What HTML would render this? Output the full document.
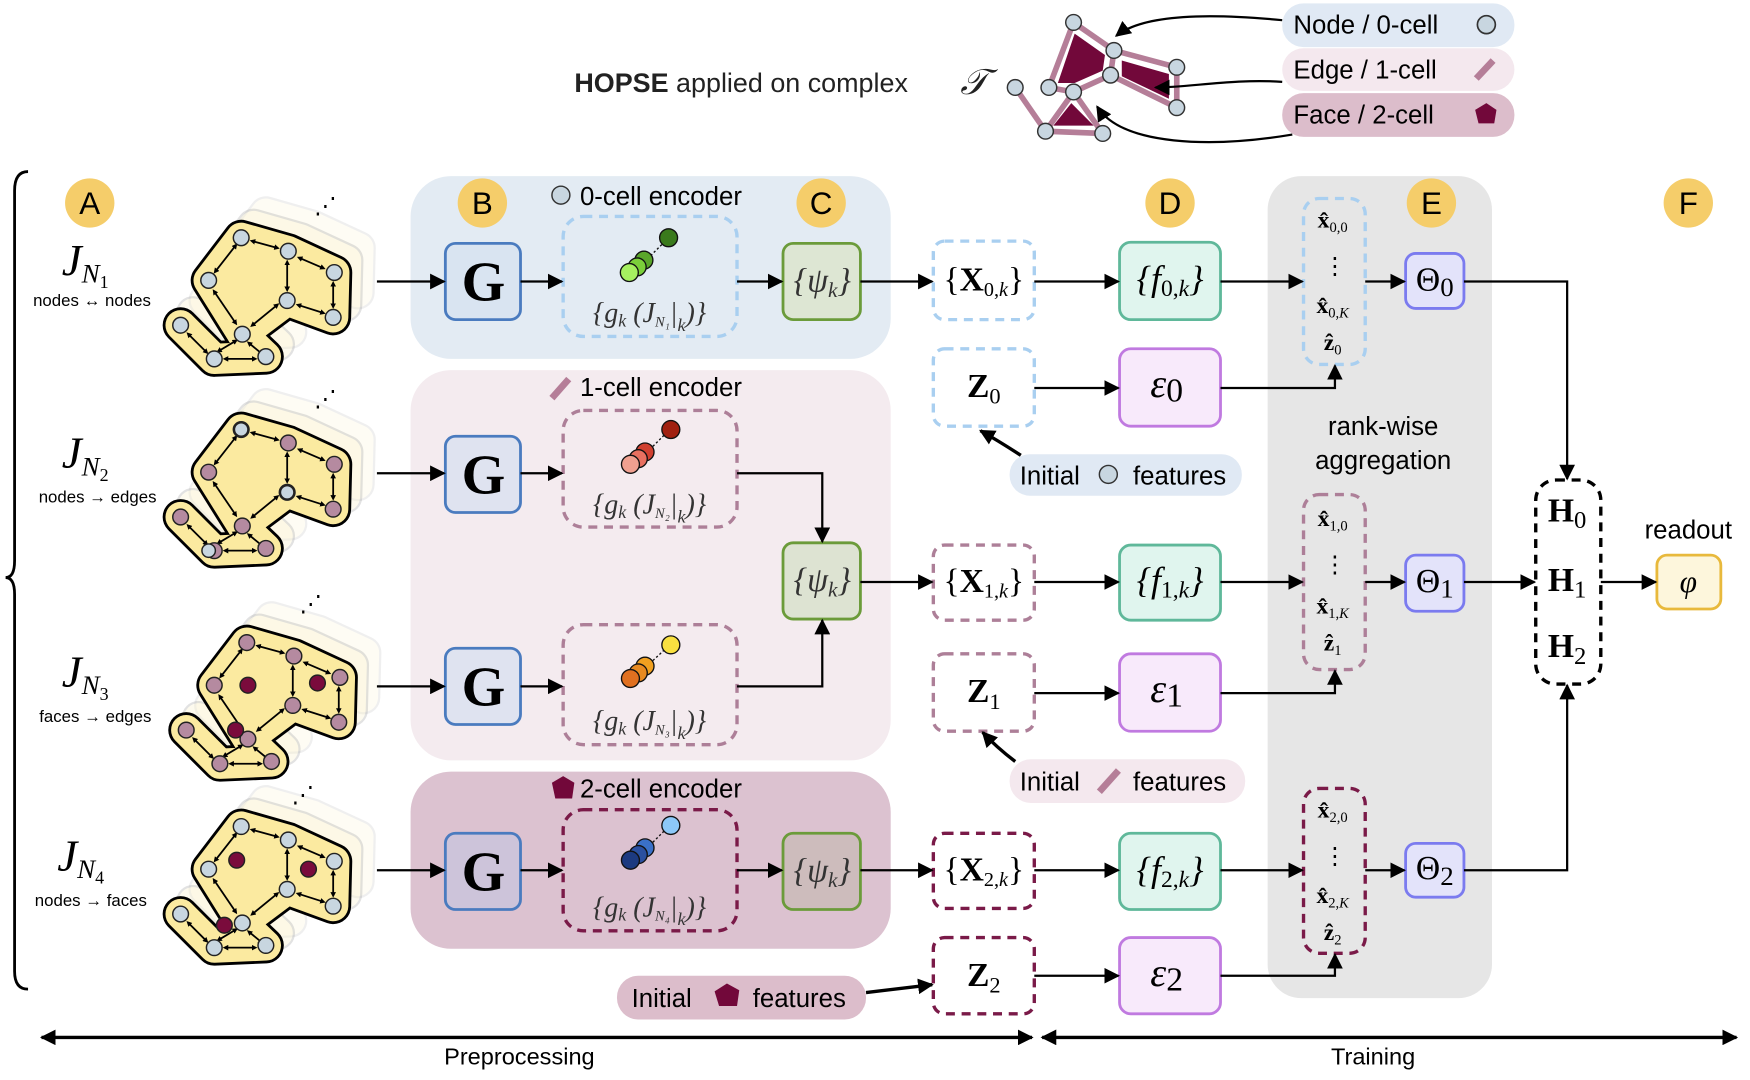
<!DOCTYPE html>
<html><head><meta charset="utf-8"><style>
html,body{margin:0;padding:0;background:#fff;}
svg{display:block;}
.s{font-family:"Liberation Sans",sans-serif;}
.m{font-family:"Liberation Serif",serif;}
</style></head><body>
<svg width="1750" height="1080" viewBox="0 0 1560 963" preserveAspectRatio="none" xmlns="http://www.w3.org/2000/svg">
<defs>
<marker id="ab" viewBox="0 0 10 10" refX="9" refY="5" markerWidth="14" markerHeight="14" orient="auto-start-reverse" markerUnits="userSpaceOnUse"><path d="M0,0 L10,5 L0,10 z" fill="#000"/></marker>
<marker id="sa" viewBox="0 0 10 10" refX="5" refY="5" markerWidth="5" markerHeight="5" orient="auto-start-reverse" markerUnits="userSpaceOnUse"><path d="M0,0 L10,5 L0,10 z" fill="#000"/></marker>
<g id="shape">
<polygon points="65,12 107,24 148,43 147,83 106,68 66,98 36,50" stroke-linejoin="round"/>
<polyline points="66,98 87,118 41,120 11,90" fill="none" stroke-linejoin="round" stroke-linecap="round"/>
</g>
<g id="blob">
<g transform="translate(22,-22)" opacity="0.18"><use href="#shape" fill="#f3e1a0" stroke="#aaa" stroke-width="30"/><use href="#shape" fill="#fbf0c4" stroke="#fbf0c4" stroke-width="26"/></g>
<g transform="translate(11,-11)" opacity="0.28"><use href="#shape" fill="#f3e1a0" stroke="#999" stroke-width="30"/><use href="#shape" fill="#fbf0c4" stroke="#fbf0c4" stroke-width="26"/></g>
<use href="#shape" fill="#000" stroke="#000" stroke-width="32"/>
<use href="#shape" fill="#fbeaa0" stroke="#fbeaa0" stroke-width="27"/>
<g stroke="#000" stroke-width="1.6" marker-start="url(#sa)" marker-end="url(#sa)">
<line x1="75" y1="15" x2="97" y2="21"/><line x1="117" y1="30" x2="138" y2="39"/><line x1="106" y1="34" x2="106" y2="58"/><line x1="147" y1="53" x2="147" y2="73"/>
<line x1="138" y1="79" x2="116" y2="72"/><line x1="97" y1="72" x2="75" y2="90"/><line x1="60" y1="19" x2="42" y2="42"/><line x1="41" y1="60" x2="60" y2="88"/>
<line x1="72" y1="106" x2="83" y2="115"/><line x1="51" y1="120" x2="77" y2="120"/><line x1="18" y1="98" x2="34" y2="114"/><line x1="60" y1="104" x2="45" y2="113"/>
</g>
</g>
<g id="nodes">
<circle cx="65" cy="12" r="7"/><circle cx="107" cy="24" r="7"/><circle cx="148" cy="43" r="7"/><circle cx="36" cy="50" r="7"/><circle cx="106" cy="68" r="7"/><circle cx="147" cy="83" r="7"/><circle cx="66" cy="98" r="7"/><circle cx="11" cy="90" r="7"/><circle cx="41" cy="120" r="7"/><circle cx="87" cy="118" r="7"/>
</g>
</defs>

<!-- top title & complex -->
<text x="512" y="82" class="s" font-size="24" fill="#222"><tspan font-weight="bold">HOPSE</tspan> applied on complex</text>
<text x="856" y="84" class="m" font-size="32" font-style="italic" fill="#222">𝒯</text>
<rect x="1143" y="3" width="207" height="39" rx="19" fill="#e0e9f4"/>
<rect x="1143" y="43" width="207" height="38" rx="19" fill="#f4e8ee"/>
<rect x="1143" y="83" width="207" height="39" rx="19" fill="#dcbdcb"/>
<text x="1153" y="30" class="s" font-size="23">Node / 0-cell</text>
<text x="1153" y="70" class="s" font-size="23">Edge / 1-cell</text>
<text x="1153" y="110" class="s" font-size="23">Face / 2-cell</text>
<circle cx="1325" cy="22" r="8" fill="#c8d6e0" stroke="#333" stroke-width="1.5"/>
<line x1="1316" y1="70" x2="1331" y2="54" stroke="#b57e98" stroke-width="6"/>
<polygon points="1325,92 1334,98 1332,110 1318,110 1315,98" fill="#72083a"/>
<g stroke="#b57e98" stroke-width="5" fill="none">
<polyline points="957,20 993,45 990,67 957,82 935,78 957,20"/>
<polyline points="993,45 1049,60 1049,96 990,67"/>
<polyline points="905,78 932,117 983,119 957,82 932,117"/>
</g>
<polygon points="958,30 985,49 983,63 958,74 943,74" fill="#72083a"/>
<polygon points="1000,54 1042,66 1042,88 1000,68" fill="#72083a"/>
<polygon points="955,92 975,112 939,112" fill="#72083a"/>
<g fill="#c8d6e0" stroke="#333" stroke-width="1.3">
<circle cx="957" cy="20" r="7"/><circle cx="993" cy="45" r="7"/><circle cx="935" cy="78" r="7"/><circle cx="990" cy="67" r="7"/><circle cx="957" cy="82" r="7"/><circle cx="1049" cy="60" r="7"/><circle cx="1049" cy="96" r="7"/><circle cx="905" cy="78" r="7"/><circle cx="932" cy="117" r="7"/><circle cx="983" cy="119" r="7"/>
</g>
<g fill="none" stroke="#000" stroke-width="2" marker-end="url(#ab)">
<path d="M1143,18 C1080,12 1020,12 995,32"/>
<path d="M1143,73 C1100,70 1060,78 1030,78"/>
<path d="M1152,120 C1080,132 1000,130 978,95"/>
</g>

<!-- left brace -->
<path d="M25,153 Q13,153 13,170 L13,500 Q13,515 5,515 Q13,515 13,530 L13,866 Q13,882 25,882" fill="none" stroke="#000" stroke-width="2.5"/>

<!-- panels -->
<rect x="366" y="157" width="428" height="163" rx="36" fill="#e3ebf3"/>
<rect x="366" y="330" width="428" height="348" rx="36" fill="#f4ebef"/>
<rect x="366" y="688" width="428" height="158" rx="36" fill="#dcc2d0"/>
<rect x="1130" y="157" width="200" height="733" rx="30" fill="#e6e6e6"/>

<!-- letter circles -->
<g fill="#f5cd6a">
<circle cx="80" cy="181" r="22"/><circle cx="430" cy="181" r="22"/><circle cx="732" cy="181" r="22"/><circle cx="1043" cy="181" r="22"/><circle cx="1276" cy="181" r="22"/><circle cx="1505" cy="181" r="22"/>
</g>
<g class="s" font-size="28" text-anchor="middle">
<text x="80" y="191">A</text><text x="430" y="191">B</text><text x="732" y="191">C</text><text x="1043" y="191">D</text><text x="1276" y="191">E</text><text x="1505" y="191">F</text>
</g>
<g class="s" font-size="23">
<text x="517" y="183">0-cell encoder</text>
<text x="517" y="353">1-cell encoder</text>
<text x="517" y="711">2-cell encoder</text>
</g>
<circle cx="500" cy="174" r="8" fill="#c8d6e0" stroke="#333" stroke-width="1.3"/>
<line x1="492" y1="355" x2="507" y2="338" stroke="#b57e98" stroke-width="6"/>
<polygon points="502,692 512,698 510,712 495,712 492,698" fill="#72083a"/>

<!-- row labels -->
<g class="m" font-style="italic">
<text x="55" y="245" font-size="40">J<tspan font-size="24" dy="7">N</tspan><tspan font-size="16" font-style="normal" dy="5">1</tspan></text>
<text x="55" y="417" font-size="40">J<tspan font-size="24" dy="7">N</tspan><tspan font-size="16" font-style="normal" dy="5">2</tspan></text>
<text x="55" y="612" font-size="40">J<tspan font-size="24" dy="7">N</tspan><tspan font-size="16" font-style="normal" dy="5">3</tspan></text>
<text x="51" y="776" font-size="40">J<tspan font-size="24" dy="7">N</tspan><tspan font-size="16" font-style="normal" dy="5">4</tspan></text>
</g>
<g class="s" font-size="15" text-anchor="middle">
<text x="82" y="273">nodes ↔ nodes</text>
<text x="87" y="448">nodes → edges</text>
<text x="85" y="644">faces → edges</text>
<text x="81" y="808">nodes → faces</text>
</g>

<!-- blobs -->
<g transform="translate(150,200)"><use href="#blob"/><use href="#nodes" fill="#c8d6e0" stroke="#222" stroke-width="1.3"/></g>
<g transform="translate(150,371)"><use href="#blob"/><use href="#nodes" fill="#b58aa0" stroke="#222" stroke-width="1.3"/>
<g fill="#c8d6e0" stroke="#222" stroke-width="1.3"><circle cx="65" cy="12" r="6"/><circle cx="106" cy="68" r="6"/><circle cx="36" cy="120" r="6"/></g></g>
<g transform="translate(155,561)"><use href="#blob"/><use href="#nodes" fill="#b58aa0" stroke="#222" stroke-width="1.3"/>
<g fill="#7a0b3c" stroke="#222" stroke-width="1.3"><circle cx="66" cy="50" r="7"/><circle cx="128" cy="48" r="7"/><circle cx="55" cy="90" r="7"/></g></g>
<g transform="translate(150,725)"><use href="#blob"/><use href="#nodes" fill="#c8d6e0" stroke="#222" stroke-width="1.3"/>
<g fill="#7a0b3c" stroke="#222" stroke-width="1.3"><circle cx="61" cy="42" r="7"/><circle cx="125" cy="50" r="7"/><circle cx="50" cy="100" r="7"/></g></g>
<g font-size="20" class="s"><text x="280" y="190">⋰</text><text x="280" y="362">⋰</text><text x="267" y="545">⋰</text><text x="260" y="715">⋰</text></g>

<!-- G boxes -->
<g stroke="#4a7bbf" stroke-width="2.5">
<rect x="397" y="217" width="67" height="68" rx="9" fill="#d9e4f1"/>
<rect x="397" y="389" width="67" height="68" rx="9" fill="#dfe3f0"/>
<rect x="397" y="578" width="67" height="68" rx="9" fill="#dfe3f0"/>
<rect x="397" y="743" width="67" height="68" rx="9" fill="#cdc4da"/>
</g>
<g class="m" font-size="50" font-weight="bold" text-anchor="middle">
<text x="431" y="268">G</text><text x="431" y="440">G</text><text x="431" y="629">G</text><text x="431" y="794">G</text>
</g>

<!-- g_k dashed boxes -->
<g fill="none" stroke-width="3" stroke-dasharray="8,6">
<rect x="502" y="193" width="155" height="107" rx="18" stroke="#a9cff0"/>
<rect x="502" y="366" width="155" height="104" rx="18" stroke="#ad7f98"/>
<rect x="502" y="557" width="155" height="107" rx="18" stroke="#ad7f98"/>
<rect x="502" y="722" width="155" height="108" rx="18" stroke="#7a1a48"/>
</g>
<g class="m" font-size="25" fill="#333" font-style="italic" text-anchor="middle">
<text x="579" y="287">{g<tspan font-size="16" dy="4">k</tspan><tspan dy="-4"> (J</tspan><tspan font-size="13" dy="4">N₁</tspan><tspan dy="-4">|</tspan><tspan font-size="16" dy="8">k</tspan><tspan dy="-8">)}</tspan></text>
<text x="579" y="458">{g<tspan font-size="16" dy="4">k</tspan><tspan dy="-4"> (J</tspan><tspan font-size="13" dy="4">N₂</tspan><tspan dy="-4">|</tspan><tspan font-size="16" dy="8">k</tspan><tspan dy="-8">)}</tspan></text>
<text x="579" y="651">{g<tspan font-size="16" dy="4">k</tspan><tspan dy="-4"> (J</tspan><tspan font-size="13" dy="4">N₃</tspan><tspan dy="-4">|</tspan><tspan font-size="16" dy="8">k</tspan><tspan dy="-8">)}</tspan></text>
<text x="579" y="817">{g<tspan font-size="16" dy="4">k</tspan><tspan dy="-4"> (J</tspan><tspan font-size="13" dy="4">N₄</tspan><tspan dy="-4">|</tspan><tspan font-size="16" dy="8">k</tspan><tspan dy="-8">)}</tspan></text>
</g>
<!-- embedding dots -->
<g stroke="#111" stroke-width="1.2">
<line x1="580" y1="228" x2="595" y2="213" stroke-dasharray="2,2"/><circle cx="596" cy="212" r="8" fill="#3a7a1c"/><circle cx="574" cy="232" r="8" fill="#5aa62a"/><circle cx="568" cy="238" r="8" fill="#7bcf3a"/><circle cx="561" cy="243" r="8" fill="#a6f060"/>
<line x1="582" y1="398" x2="596" y2="384" stroke-dasharray="2,2"/><circle cx="598" cy="383" r="8" fill="#a02010"/><circle cx="575" cy="403" r="8" fill="#d04030"/><circle cx="569" cy="409" r="8" fill="#e87060"/><circle cx="562" cy="414" r="8" fill="#f0a090"/>
<line x1="582" y1="589" x2="596" y2="576" stroke-dasharray="2,2"/><circle cx="598" cy="575" r="8" fill="#f8e040"/><circle cx="575" cy="594" r="8" fill="#f0a020"/><circle cx="569" cy="600" r="8" fill="#e88a20"/><circle cx="562" cy="605" r="8" fill="#e07020"/>
<line x1="582" y1="751" x2="596" y2="737" stroke-dasharray="2,2"/><circle cx="598" cy="736" r="8" fill="#8cc8f8"/><circle cx="575" cy="756" r="8" fill="#3a70c8"/><circle cx="569" cy="762" r="8" fill="#2a50a0"/><circle cx="562" cy="767" r="8" fill="#1c3a80"/>
</g>

<!-- psi boxes -->
<g stroke="#6b9b3a" stroke-width="2.5">
<rect x="698" y="217" width="69" height="68" rx="9" fill="#dde6d3"/>
<rect x="698" y="484" width="69" height="68" rx="9" fill="#dde3d2"/>
<rect x="698" y="743" width="69" height="68" rx="9" fill="#cdbcbc"/>
</g>
<g class="m" font-size="30" font-style="italic" text-anchor="middle" fill="#333">
<text x="733" y="260">{ψ<tspan font-size="19" dy="5">k</tspan><tspan dy="-5">}</tspan></text>
<text x="733" y="527">{ψ<tspan font-size="19" dy="5">k</tspan><tspan dy="-5">}</tspan></text>
<text x="733" y="786">{ψ<tspan font-size="19" dy="5">k</tspan><tspan dy="-5">}</tspan></text>
</g>

<!-- X and Z boxes -->
<g fill="none" stroke-width="3" stroke-dasharray="8,6">
<rect x="832" y="215" width="90" height="70" rx="10" stroke="#a9cff0"/>
<rect x="832" y="311" width="90" height="69" rx="10" stroke="#a9cff0"/>
<rect x="832" y="486" width="90" height="67" rx="10" stroke="#ad7f98"/>
<rect x="832" y="583" width="90" height="69" rx="10" stroke="#ad7f98"/>
<rect x="832" y="743" width="90" height="67" rx="10" stroke="#7a1a48"/>
<rect x="832" y="836" width="90" height="68" rx="10" stroke="#7a1a48"/>
</g>
<g class="m" font-size="30" text-anchor="middle">
<text x="877" y="259">{<tspan font-weight="bold">X</tspan><tspan font-size="18" dy="5">0,<tspan font-style="italic">k</tspan></tspan><tspan dy="-5">}</tspan></text>
<text x="877" y="528">{<tspan font-weight="bold">X</tspan><tspan font-size="18" dy="5">1,<tspan font-style="italic">k</tspan></tspan><tspan dy="-5">}</tspan></text>
<text x="877" y="785">{<tspan font-weight="bold">X</tspan><tspan font-size="18" dy="5">2,<tspan font-style="italic">k</tspan></tspan><tspan dy="-5">}</tspan></text>
<text x="877" y="354" font-weight="bold">Z<tspan font-size="20" font-weight="normal" dy="6">0</tspan></text>
<text x="877" y="626" font-weight="bold">Z<tspan font-size="20" font-weight="normal" dy="6">1</tspan></text>
<text x="877" y="879" font-weight="bold">Z<tspan font-size="20" font-weight="normal" dy="6">2</tspan></text>
</g>

<!-- f and eps boxes -->
<g stroke="#5fb89a" stroke-width="2.5" fill="#e0f5ee">
<rect x="998" y="216" width="90" height="69" rx="10"/><rect x="998" y="486" width="90" height="67" rx="10"/><rect x="998" y="743" width="90" height="68" rx="10"/>
</g>
<g stroke="#c07ae0" stroke-width="2.5" fill="#f8eafb">
<rect x="998" y="311" width="90" height="69" rx="10"/><rect x="998" y="583" width="90" height="69" rx="10"/><rect x="998" y="836" width="90" height="68" rx="10"/>
</g>
<g class="m" font-size="32" text-anchor="middle" font-style="italic">
<text x="1043" y="259">{f<tspan font-size="21" font-style="normal" dy="5">0,</tspan><tspan font-size="21">k</tspan><tspan dy="-5">}</tspan></text>
<text x="1043" y="528">{f<tspan font-size="21" font-style="normal" dy="5">1,</tspan><tspan font-size="21">k</tspan><tspan dy="-5">}</tspan></text>
<text x="1043" y="786">{f<tspan font-size="21" font-style="normal" dy="5">2,</tspan><tspan font-size="21">k</tspan><tspan dy="-5">}</tspan></text>
<text x="1040" y="354" font-size="36">ε<tspan font-style="normal" font-size="30" dy="4">0</tspan></text>
<text x="1040" y="626" font-size="36">ε<tspan font-style="normal" font-size="30" dy="4">1</tspan></text>
<text x="1040" y="879" font-size="36">ε<tspan font-style="normal" font-size="30" dy="4">2</tspan></text>
</g>

<!-- xhat columns -->
<g fill="none" stroke-width="3" stroke-dasharray="8,6">
<rect x="1162" y="177" width="55" height="148" rx="14" stroke="#a9cff0"/>
<rect x="1162" y="441" width="55" height="156" rx="14" stroke="#ad7f98"/>
<rect x="1162" y="703" width="55" height="147" rx="14" stroke="#7a1a48"/>
</g>
<g class="m" font-size="21" text-anchor="middle" font-weight="bold">
<text x="1188" y="203">x̂<tspan font-size="13" font-weight="normal" dy="4">0,0</tspan></text>
<text x="1190" y="244" font-weight="normal">⋮</text>
<text x="1188" y="279">x̂<tspan font-size="13" font-weight="normal" dy="4">0,<tspan font-style="italic">K</tspan></tspan></text>
<text x="1188" y="312">ẑ<tspan font-size="13" font-weight="normal" dy="4">0</tspan></text>
<text x="1188" y="469">x̂<tspan font-size="13" font-weight="normal" dy="4">1,0</tspan></text>
<text x="1190" y="510" font-weight="normal">⋮</text>
<text x="1188" y="547">x̂<tspan font-size="13" font-weight="normal" dy="4">1,<tspan font-style="italic">K</tspan></tspan></text>
<text x="1188" y="580">ẑ<tspan font-size="13" font-weight="normal" dy="4">1</tspan></text>
<text x="1188" y="729">x̂<tspan font-size="13" font-weight="normal" dy="4">2,0</tspan></text>
<text x="1190" y="770" font-weight="normal">⋮</text>
<text x="1188" y="805">x̂<tspan font-size="13" font-weight="normal" dy="4">2,<tspan font-style="italic">K</tspan></tspan></text>
<text x="1188" y="838">ẑ<tspan font-size="13" font-weight="normal" dy="4">2</tspan></text>
</g>
<g class="s" font-size="23" text-anchor="middle"><text x="1233" y="388">rank-wise</text><text x="1233" y="418">aggregation</text></g>

<!-- Theta -->
<g stroke="#7b7bef" stroke-width="2.5" fill="#e3e3fa">
<rect x="1253" y="226" width="52" height="49" rx="9"/><rect x="1253" y="495" width="52" height="50" rx="9"/><rect x="1253" y="752" width="52" height="48" rx="9"/>
</g>
<g class="m" font-size="30" text-anchor="middle">
<text x="1279" y="259">Θ<tspan font-size="24" dy="5">0</tspan></text>
<text x="1279" y="528">Θ<tspan font-size="24" dy="5">1</tspan></text>
<text x="1279" y="784">Θ<tspan font-size="24" dy="5">2</tspan></text>
</g>

<!-- H box -->
<rect x="1369" y="428" width="58" height="182" rx="18" fill="none" stroke="#000" stroke-width="3" stroke-dasharray="8,6"/>
<g class="m" font-size="30" font-weight="bold" text-anchor="middle">
<text x="1397" y="465">H<tspan font-size="22" font-weight="normal" dy="6">0</tspan></text>
<text x="1397" y="527">H<tspan font-size="22" font-weight="normal" dy="6">1</tspan></text>
<text x="1397" y="586">H<tspan font-size="22" font-weight="normal" dy="6">2</tspan></text>
</g>
<text x="1505" y="480" class="s" font-size="23" text-anchor="middle">readout</text>
<rect x="1477" y="495" width="57" height="48" rx="9" fill="#fdf6dc" stroke="#e8b93c" stroke-width="2.5"/>
<text x="1505" y="528" class="m" font-size="28" font-style="italic" text-anchor="middle">φ</text>

<!-- initial feature pills -->
<rect x="900" y="405" width="207" height="37" rx="18" fill="#e0e9f4"/>
<rect x="900" y="677" width="210" height="39" rx="19" fill="#f4e8ee"/>
<rect x="550" y="870" width="222" height="39" rx="19" fill="#dcbdcb"/>
<g class="s" font-size="23">
<text x="909" y="432">Initial</text><text x="1010" y="432">features</text>
<text x="909" y="705">Initial</text><text x="1010" y="705">features</text>
<text x="563" y="898">Initial</text><text x="671" y="898">features</text>
</g>
<circle cx="988" cy="423" r="8" fill="#c8d6e0" stroke="#333" stroke-width="1.3"/>
<line x1="980" y1="706" x2="997" y2="687" stroke="#b57e98" stroke-width="6"/>
<polygon points="648,877 659,883 657,897 641,897 637,884" fill="#72083a"/>

<!-- connectors -->
<g fill="none" stroke="#000" stroke-width="2" marker-end="url(#ab)">
<line x1="336" y1="251" x2="396" y2="251"/><line x1="464" y1="251" x2="501" y2="251"/><line x1="657" y1="251" x2="697" y2="251"/><line x1="767" y1="251" x2="831" y2="251"/><line x1="922" y1="251" x2="997" y2="251"/><line x1="1088" y1="251" x2="1161" y2="251"/><line x1="1217" y1="251" x2="1252" y2="251"/>
<polyline points="1305,251 1397,251 1397,427"/>
<line x1="922" y1="346" x2="997" y2="346"/><polyline points="1088,346 1190,346 1190,326"/>
<line x1="336" y1="422" x2="396" y2="422"/><line x1="464" y1="422" x2="501" y2="422"/><polyline points="657,422 733,422 733,483"/>
<line x1="336" y1="612" x2="396" y2="612"/><line x1="464" y1="612" x2="501" y2="612"/><polyline points="657,612 733,612 733,553"/>
<line x1="767" y1="519" x2="831" y2="519"/><line x1="922" y1="519" x2="997" y2="519"/><line x1="1088" y1="519" x2="1161" y2="519"/><line x1="1217" y1="519" x2="1252" y2="519"/><line x1="1305" y1="519" x2="1368" y2="519"/><line x1="1427" y1="519" x2="1476" y2="519"/>
<line x1="922" y1="618" x2="997" y2="618"/><polyline points="1088,618 1190,618 1190,598"/>
<line x1="336" y1="776" x2="396" y2="776"/><line x1="464" y1="776" x2="501" y2="776"/><line x1="657" y1="776" x2="697" y2="776"/><line x1="767" y1="776" x2="831" y2="776"/><line x1="922" y1="776" x2="997" y2="776"/><line x1="1088" y1="776" x2="1161" y2="776"/><line x1="1217" y1="776" x2="1252" y2="776"/>
<polyline points="1305,776 1397,776 1397,611"/>
<line x1="922" y1="870" x2="997" y2="870"/><polyline points="1088,870 1190,870 1190,851"/>
<path d="M910,406 Q890,393 874,384" stroke-width="3"/>
<path d="M905,679 Q888,666 876,653" stroke-width="3"/>
<path d="M772,885 L831,878" stroke-width="3"/>
</g>

<!-- bottom -->
<g stroke="#000" stroke-width="3" marker-start="url(#ab)" marker-end="url(#ab)">
<line x1="37" y1="925" x2="920" y2="925"/><line x1="929" y1="925" x2="1548" y2="925"/>
</g>
<g class="s" font-size="21" text-anchor="middle"><text x="463" y="949">Preprocessing</text><text x="1224" y="949">Training</text></g>
</svg>
</body></html>
